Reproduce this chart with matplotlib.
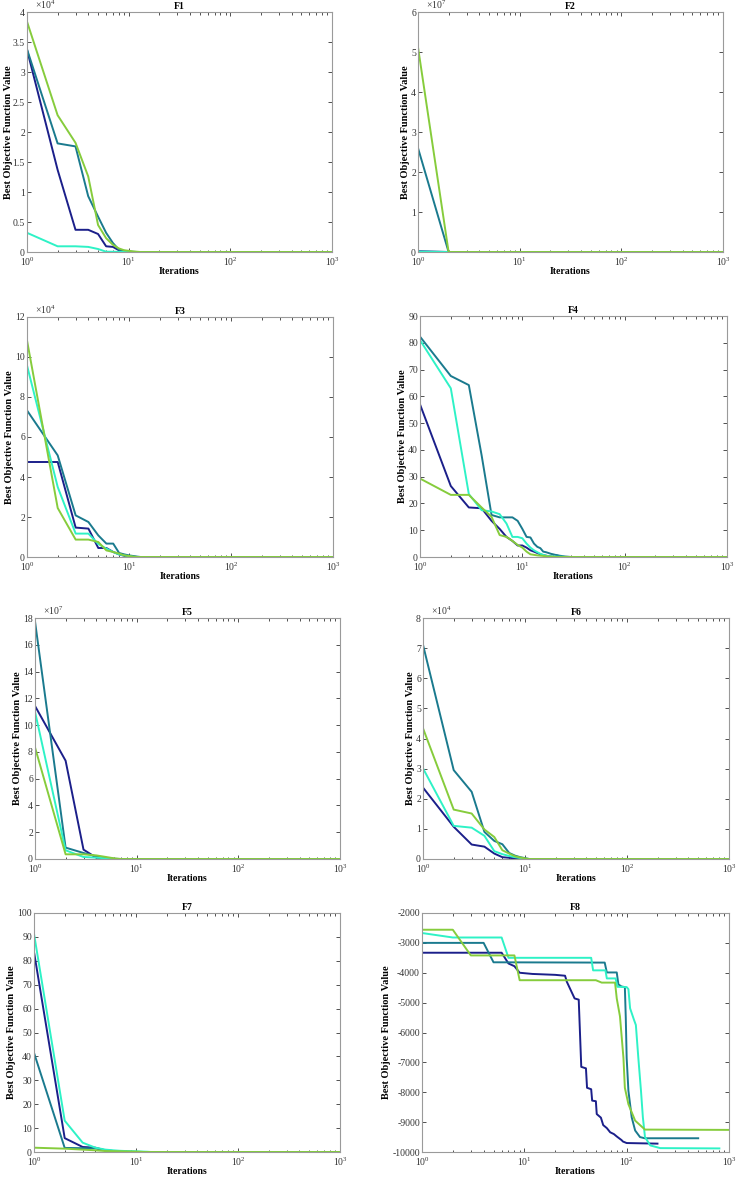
import matplotlib
matplotlib.use("Agg")
import matplotlib.pyplot as plt
from matplotlib.ticker import FuncFormatter, LogLocator, NullFormatter

plt.rcParams['font.family'] = ['Liberation Serif', 'DejaVu Serif']
plt.rcParams['mathtext.fontset'] = 'custom'
plt.rcParams['mathtext.rm'] = 'Liberation Serif'
plt.rcParams['mathtext.it'] = 'Liberation Serif:italic'

NAVY = '#1b1f8a'
TEAL = '#1a7a8e'
CYAN = '#2ef2c6'
GREEN = '#86cc3c'
LAST_ITER = 1000

# per-iteration values (iteration 1, 2, 3, ...), tail stays flat until 1000
f1_navy = [33700, 13700, 3700, 3700, 3000, 950, 850, 300, 100, 30, 0]
f1_teal = [33800, 18100, 17600, 9300, 5900, 3200, 1500, 400, 200, 100, 40, 0]
f1_cyan = [3200, 950, 950, 850, 500, 50, 40, 20, 0]
f1_green = [38400, 22800, 18200, 12600, 4500, 2300, 1200, 600, 300, 200, 100, 50, 0]

f2_navy = [2e5, 0]
f2_teal = [2.6e7, 0]
f2_cyan = [1e5, 0]
f2_green = [5.12e7, 0]

f3_navy = [47500, 47500, 14700, 14200, 4500, 4500, 2500, 1300, 600, 300, 100, 0]
f3_teal = [73300, 50800, 20800, 17500, 10800, 6700, 6700, 2000, 1300, 800, 500, 200, 0]
f3_cyan = [95800, 35000, 11700, 11700, 6500, 4200, 2500, 1300, 800, 400, 100, 0]
f3_green = [108300, 24500, 8700, 8700, 7500, 3300, 2500, 1700, 800, 500, 200, 0]

f4_navy = [57, 26.5, 18.5, 18.2, 13.5, 10.5, 7.5, 6, 4.3, 4.3, 3.5, 2.5, 2, 1.5, 1,
           0.7, 0.5, 0.3, 0.2, 0.1, 0.05, 0]
f4_teal = [82.3, 67.6, 64.2, 38, 15.7, 14.8, 14.8, 14.8, 13.5, 10.5, 7.5, 7.3, 5, 3.8,
           3.3, 2, 1.8, 1.5, 1.2, 1, 0.8, 0.7, 0.5, 0.4, 0.3, 0.2, 0.15, 0.1, 0.05, 0]
f4_cyan = [81, 63, 23.5, 17.5, 17, 16, 12.5, 7.5, 7.5, 7, 5, 3.5, 2.5, 1.8, 1.2, 0.8,
           0.5, 0.3, 0.25, 0.2, 0.15, 0.1, 0.1, 0.1, 0.1, 0]
f4_green = [29.3, 23.2, 23.2, 18.5, 15, 8.2, 7.5, 6, 4.5, 3.5, 2, 1, 0.8, 0.6, 0.5,
            0.4, 0.3, 0.2, 0.15, 0.1, 0]

f5_navy = [11.43e7, 7.34e7, 0.7e7, 0.1e7, 0.02e7, 0]
f5_teal = [17.75e7, 0.85e7, 0.45e7, 0.2e7, 0.08e7, 0.02e7, 0]
f5_cyan = [11.0e7, 0.65e7, 0.15e7, 0.1e7, 0.05e7, 0]
f5_green = [8.34e7, 0.35e7, 0.35e7, 0.27e7, 0.15e7, 0.05e7, 0]

f6_navy = [23700, 10700, 4800, 4100, 1800, 600, 400, 200, 0]
f6_teal = [71100, 29500, 22300, 9000, 6000, 4900, 2000, 1100, 600, 300, 0]
f6_cyan = [30100, 11000, 10400, 7700, 2600, 1600, 1000, 600, 300, 0]
f6_green = [43400, 16400, 15100, 9800, 7300, 2900, 1800, 900, 500, 200, 0]

f7_navy = [83.7, 5.8, 2.1, 1.8, 0.7, 0.4, 0.2, 0.1, 0.05, 0]
f7_teal = [41.5, 1.7, 1.6, 1.5, 0.7, 0.4, 0.2, 0.1, 0]
f7_cyan = [91.3, 13.1, 3.9, 1.8, 1.0, 0.7, 0.5, 0.4, 0.35, 0.3, 0.2, 0.15, 0.1, 0]
f7_green = [1.8, 1.4, 1.0, 0.7, 0.4, 0.35, 0.3, 0.25, 0.2, 0.15, 0.1, 0]

# F8: breakpoints (iteration, value)
f8_navy_x = [1, 6, 7, 8, 9, 12, 20, 25, 26, 31, 34, 36, 40, 41, 45, 46, 50, 51, 56, 59,
             64, 69, 75, 80, 89, 92, 100, 200]
f8_navy_y = [-3330, -3330, -3690, -3780, -4000, -4040, -4070, -4100, -4300, -4860, -4900,
             -7150, -7200, -7850, -7900, -8280, -8300, -8730, -8850, -9100, -9200, -9340,
             -9400, -9480, -9600, -9650, -9700, -9720]
f8_teal_x = [1, 4, 5, 61, 64, 80, 83, 89, 96, 98, 100, 104, 112, 121, 135, 150, 500]
f8_teal_y = [-3000, -3000, -3650, -3660, -3990, -3990, -4390, -4460, -4480, -5500,
             -6850, -7950, -8840, -9280, -9500, -9540, -9540]
f8_cyan_x = [1, 2, 6, 7, 45, 47, 62, 64, 78, 81, 100, 104, 108, 118, 123, 130, 138, 144,
             151, 170, 213, 805]
f8_cyan_y = [-2670, -2820, -2820, -3500, -3500, -3920, -3920, -4190, -4190, -4470, -4480,
             -4550, -5190, -5580, -5750, -6850, -7950, -8840, -9500, -9780, -9870, -9880]
f8_green_x = [1, 2, 3, 8, 9, 50, 57, 77, 80, 86, 93, 96, 104, 121, 151, 1000]
f8_green_y = [-2560, -2560, -3420, -3420, -4250, -4250, -4330, -4330, -4860, -5460,
              -6850, -7850, -8400, -8950, -9250, -9260]

titles = ['F1', 'F2', 'F3', 'F4', 'F5', 'F6', 'F7', 'F8']
ymax = [4e4, 6e7, 12e4, 90, 18e7, 8e4, 100, -2000]
ymin = [0, 0, 0, 0, 0, 0, 0, -10000]
ystep = [0.5e4, 1e7, 2e4, 10, 2e7, 1e4, 10, 1000]
yexp = [4, 7, 4, None, 7, 4, None, None]

# axes boxes in pixels: left, right, top, bottom
boxes = [(27, 332, 12, 252), (418, 723, 12, 252),
         (27, 333, 317, 557), (420, 727, 316, 557),
         (35, 340, 618, 859), (423, 729, 618, 859),
         (34, 340, 913, 1152), (422, 729, 913, 1152)]


def curve(vals):
    xs = list(range(1, len(vals) + 1)) + [LAST_ITER]
    ys = list(vals) + [vals[-1]]
    return xs, ys


series = [
    [f1_navy, f1_teal, f1_cyan, f1_green],
    [f2_navy, f2_teal, f2_cyan, f2_green],
    [f3_navy, f3_teal, f3_cyan, f3_green],
    [f4_navy, f4_teal, f4_cyan, f4_green],
    [f5_navy, f5_teal, f5_cyan, f5_green],
    [f6_navy, f6_teal, f6_cyan, f6_green],
    [f7_navy, f7_teal, f7_cyan, f7_green],
]
colors = [NAVY, TEAL, CYAN, GREEN]

W, H = 736, 1180
fig = plt.figure(figsize=(W / 100, H / 100), dpi=100)

for i, (l, r, t, b) in enumerate(boxes):
    ax = fig.add_axes([l / W, (H - b) / H, (r - l) / W, (b - t) / H])
    if i < 7:
        for vals, c in zip(series[i], colors):
            xs, ys = curve(vals)
            ax.plot(xs, ys, color=c, lw=1.4)
    else:
        ax.plot(f8_navy_x, f8_navy_y, color=NAVY, lw=1.4)
        ax.plot(f8_teal_x, f8_teal_y, color=TEAL, lw=1.4)
        ax.plot(f8_cyan_x, f8_cyan_y, color=CYAN, lw=1.4)
        ax.plot(f8_green_x, f8_green_y, color=GREEN, lw=1.4)

    ax.set_xscale('log')
    ax.set_xlim(1, 1000)
    ax.set_ylim(ymin[i], ymax[i])
    n = int(round((ymax[i] - ymin[i]) / ystep[i]))
    ticks = [ymin[i] + k * ystep[i] for k in range(n + 1)]
    ax.set_yticks(ticks)
    e = yexp[i]
    if e is not None:
        ax.yaxis.set_major_formatter(FuncFormatter(lambda v, p, e=e: f'{v / 10**e:g}'))
        ax.text(0.025, 1.005, r'$\times\mathregular{10^{%d}}$' % e, transform=ax.transAxes,
                fontsize=7, color='#333333', va='bottom', ha='left')
    else:
        ax.yaxis.set_major_formatter(FuncFormatter(lambda v, p: f'{v:g}'))
    ax.xaxis.set_major_locator(LogLocator(base=10, numticks=5))
    ax.xaxis.set_minor_locator(LogLocator(base=10, subs=range(2, 10), numticks=12))
    ax.xaxis.set_minor_formatter(NullFormatter())
    ax.tick_params(which='both', direction='in', top=True, right=True,
                   labelsize=7, colors='#333333', width=0.6)
    ax.tick_params(which='major', length=3)
    ax.tick_params(which='minor', length=1.8)
    ax.tick_params(axis='x', pad=2.5)
    ax.tick_params(axis='y', pad=1.5)
    for s in ax.spines.values():
        s.set_color('#9a9a9a')
        s.set_linewidth(0.8)
    ax.set_title(titles[i], fontsize=7, fontweight='bold', pad=2)
    ax.set_xlabel('Iterations', fontsize=7, fontweight='bold', labelpad=-0.5)
    ax.set_ylabel('Best Objective Function Value', fontsize=7.5, fontweight='bold',
                  labelpad=1 if i else 0)

fig.savefig('out.png', dpi=100)
